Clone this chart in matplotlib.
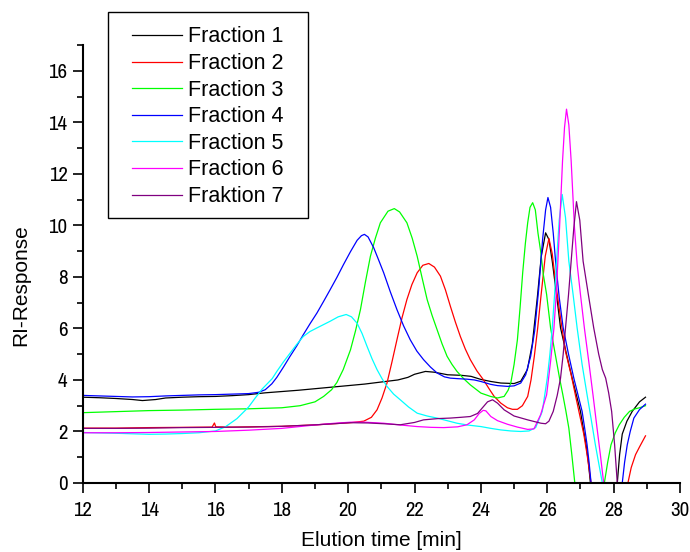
import matplotlib
matplotlib.use("Agg")
import matplotlib.pyplot as plt
from matplotlib import font_manager
from matplotlib.patches import Rectangle
from matplotlib.ticker import MultipleLocator

# Elution profiles: (time [min], RI response) pairs for each fraction
fraction_1 = [(12.0, 3.33), (12.5, 3.31), (13.0, 3.28), (13.5, 3.24), (13.8, 3.20), (14.2, 3.24),
              (14.5, 3.30), (15.0, 3.33), (15.5, 3.35), (16.0, 3.36), (16.5, 3.39), (17.0, 3.43),
              (17.5, 3.50), (18.0, 3.55), (18.5, 3.60), (19.0, 3.66), (19.5, 3.72), (20.0, 3.78),
              (20.5, 3.84), (21.0, 3.92), (21.5, 4.00), (21.8, 4.10), (22.0, 4.22), (22.33, 4.33),
              (22.6, 4.30), (23.0, 4.20), (23.4, 4.18), (23.7, 4.14), (24.0, 4.02), (24.3, 3.94),
              (24.6, 3.88), (25.0, 3.86), (25.2, 3.95), (25.4, 4.40), (25.55, 5.40), (25.7, 7.20),
              (25.82, 8.80), (25.95, 9.71), (26.05, 9.45), (26.15, 8.61), (26.28, 7.30), (26.4, 6.02),
              (26.58, 5.00), (26.75, 4.07), (26.88, 3.40), (27.0, 2.78), (27.1, 2.00), (27.17, 1.48),
              (27.24, 0.80), (27.3, 0.00), (27.4, -1.20), (27.7, -3.00), (28.0, -1.50), (28.11, 0.00),
              (28.18, 1.10), (28.26, 1.90), (28.4, 2.40), (28.56, 2.78), (28.78, 3.15), (28.96, 3.33)]

fraction_2 = [(12.0, 2.13), (13.0, 2.13), (14.0, 2.15), (15.0, 2.16), (15.9, 2.17), (15.97, 2.33),
              (16.01, 2.18), (16.5, 2.17), (17.0, 2.18), (18.0, 2.20), (19.06, 2.26), (20.07, 2.34),
              (20.47, 2.40), (20.7, 2.55), (20.87, 2.84), (21.02, 3.30), (21.17, 3.88), (21.32, 4.70),
              (21.47, 5.56), (21.62, 6.40), (21.77, 7.12), (21.92, 7.70), (22.08, 8.16), (22.25, 8.45),
              (22.43, 8.52), (22.6, 8.38), (22.78, 8.03), (22.93, 7.50), (23.08, 6.86), (23.23, 6.25),
              (23.38, 5.69), (23.53, 5.20), (23.68, 4.79), (23.88, 4.35), (24.08, 4.00), (24.25, 3.65),
              (24.4, 3.36), (24.6, 3.10), (24.8, 2.92), (24.95, 2.86), (25.1, 2.86), (25.25, 3.00),
              (25.41, 3.36), (25.51, 4.00), (25.61, 4.92), (25.71, 6.00), (25.81, 7.25), (25.94, 8.81),
              (26.05, 9.49), (26.15, 8.90), (26.25, 7.80), (26.4, 6.40), (26.55, 5.10), (26.72, 4.20),
              (26.85, 3.40), (27.0, 2.50), (27.1, 1.90), (27.2, 1.10), (27.32, 0.00), (27.45, -1.50),
              (27.8, -3.00), (28.2, -2.00), (28.43, 0.00), (28.53, 0.60), (28.66, 1.10), (28.78, 1.40),
              (28.96, 1.83)]

fraction_3 = [(12.0, 2.73), (13.0, 2.77), (14.0, 2.81), (15.0, 2.83), (16.0, 2.86), (17.0, 2.88),
              (18.0, 2.92), (18.55, 3.00), (19.0, 3.15), (19.26, 3.36), (19.5, 3.62), (19.66, 3.90),
              (19.85, 4.40), (20.07, 5.17), (20.22, 5.90), (20.37, 6.73), (20.52, 7.80), (20.67, 8.80),
              (20.82, 9.50), (20.97, 10.10), (21.2, 10.55), (21.39, 10.65), (21.55, 10.52), (21.77, 10.10),
              (21.93, 9.50), (22.08, 8.80), (22.23, 7.95), (22.38, 7.12), (22.53, 6.50), (22.68, 5.95),
              (22.83, 5.40), (22.98, 4.92), (23.13, 4.60), (23.28, 4.33), (23.48, 4.05), (23.68, 3.81),
              (24.0, 3.49), (24.29, 3.36), (24.5, 3.30), (24.7, 3.36), (24.82, 3.60), (24.9, 3.88),
              (25.0, 4.60), (25.1, 5.56), (25.18, 6.80), (25.26, 8.17), (25.34, 9.30), (25.41, 10.10),
              (25.48, 10.70), (25.56, 10.88), (25.64, 10.60), (25.72, 9.70), (25.8, 9.00), (25.88, 8.10),
              (25.98, 7.32), (26.1, 6.02), (26.24, 5.00), (26.37, 4.07), (26.47, 3.42), (26.56, 2.80),
              (26.65, 2.13), (26.74, 1.10), (26.83, 0.00), (26.95, -1.80), (27.3, -3.00), (27.6, -1.50),
              (27.72, 0.00), (27.82, 0.80), (27.92, 1.48), (28.05, 1.95), (28.17, 2.26), (28.32, 2.55),
              (28.48, 2.78), (28.65, 2.88), (28.78, 2.92), (28.96, 3.00)]

fraction_4 = [(12.0, 3.40), (12.5, 3.38), (13.0, 3.36), (13.5, 3.34), (14.0, 3.35), (14.5, 3.38),
              (15.0, 3.40), (15.5, 3.42), (16.0, 3.43), (16.5, 3.45), (17.0, 3.47), (17.3, 3.52),
              (17.5, 3.62), (17.7, 3.85), (17.85, 4.10), (18.05, 4.50), (18.25, 4.92), (18.45, 5.32),
              (18.65, 5.76), (18.85, 6.18), (19.06, 6.60), (19.26, 7.05), (19.46, 7.51), (19.66, 7.98),
              (19.86, 8.48), (20.07, 8.98), (20.27, 9.42), (20.4, 9.60), (20.49, 9.65), (20.6, 9.55),
              (20.77, 9.13), (20.92, 8.65), (21.07, 8.16), (21.27, 7.42), (21.47, 6.73), (21.67, 6.10),
              (21.87, 5.56), (22.07, 5.12), (22.27, 4.79), (22.48, 4.50), (22.68, 4.27), (22.9, 4.12),
              (23.08, 4.07), (23.3, 4.05), (23.58, 4.03), (23.8, 4.00), (24.0, 3.94), (24.29, 3.83),
              (24.5, 3.78), (24.8, 3.75), (25.0, 3.77), (25.2, 3.88), (25.35, 4.20), (25.5, 4.92),
              (25.62, 5.90), (25.74, 7.50), (25.86, 9.46), (25.95, 10.60), (26.02, 11.08), (26.1, 10.70),
              (26.18, 9.70), (26.25, 8.61), (26.36, 7.20), (26.48, 6.02), (26.64, 5.00), (26.8, 4.07),
              (26.93, 3.40), (27.05, 2.78), (27.13, 2.10), (27.2, 1.48), (27.26, 0.80), (27.32, 0.00),
              (27.45, -1.50), (27.8, -3.00), (28.1, -2.00), (28.26, 0.00), (28.33, 0.80), (28.41, 1.48),
              (28.5, 2.00), (28.61, 2.52), (28.78, 2.85), (28.96, 3.06)]

fraction_5 = [(12.0, 1.96), (13.0, 1.93), (14.0, 1.89), (14.5, 1.90), (15.0, 1.92), (15.5, 1.95),
              (16.0, 2.02), (16.3, 2.18), (16.65, 2.50), (17.0, 2.95), (17.2, 3.30), (17.41, 3.65),
              (17.71, 4.05), (17.85, 4.33), (18.05, 4.70), (18.25, 5.04), (18.45, 5.38), (18.65, 5.69),
              (18.85, 5.88), (19.06, 6.02), (19.26, 6.15), (19.46, 6.28), (19.7, 6.45), (19.94, 6.54),
              (20.1, 6.45), (20.27, 6.20), (20.42, 5.80), (20.57, 5.30), (20.72, 4.82), (20.87, 4.40),
              (21.02, 4.05), (21.17, 3.75), (21.37, 3.45), (21.57, 3.23), (21.82, 2.95), (22.08, 2.71),
              (22.38, 2.60), (22.68, 2.52), (22.98, 2.42), (23.28, 2.32), (23.6, 2.25), (24.0, 2.19),
              (24.3, 2.12), (24.6, 2.06), (24.9, 2.02), (25.2, 2.00), (25.45, 2.02), (25.65, 2.15),
              (25.85, 2.78), (26.0, 4.07), (26.08, 5.00), (26.15, 6.02), (26.22, 7.30), (26.28, 8.61),
              (26.36, 10.20), (26.45, 11.20), (26.55, 10.30), (26.65, 8.61), (26.78, 7.30), (26.9, 6.02),
              (27.05, 4.60), (27.2, 3.42), (27.32, 2.50), (27.45, 1.48), (27.56, 0.70), (27.66, 0.00),
              (27.8, -1.60), (28.2, -3.00)]

fraction_6 = [(12.0, 1.95), (13.0, 1.95), (14.0, 1.96), (15.0, 1.98), (16.0, 2.00), (17.0, 2.05),
              (18.0, 2.12), (19.06, 2.26), (19.6, 2.32), (20.07, 2.36), (20.5, 2.36), (21.07, 2.32),
              (21.5, 2.26), (22.08, 2.19), (22.5, 2.16), (22.88, 2.15), (23.3, 2.18), (23.58, 2.26),
              (23.8, 2.45), (23.95, 2.70), (24.07, 2.82), (24.15, 2.80), (24.3, 2.58), (24.5, 2.42),
              (24.8, 2.28), (25.1, 2.17), (25.41, 2.08), (25.6, 2.10), (25.8, 2.65), (25.98, 3.42),
              (26.1, 4.72), (26.2, 6.00), (26.27, 7.32), (26.37, 9.91), (26.46, 12.50), (26.52, 13.80),
              (26.58, 14.51), (26.65, 13.90), (26.72, 12.50), (26.82, 9.91), (26.9, 8.50), (27.0, 7.32),
              (27.12, 6.00), (27.25, 4.72), (27.38, 3.40), (27.5, 2.13), (27.6, 1.10), (27.7, 0.00),
              (27.85, -1.70), (28.3, -3.00)]

fraction_7 = [(12.0, 2.12), (13.0, 2.12), (14.0, 2.13), (15.0, 2.15), (16.0, 2.16), (17.0, 2.17),
              (18.0, 2.20), (19.06, 2.26), (20.07, 2.34), (20.6, 2.33), (21.07, 2.30), (21.57, 2.26),
              (22.0, 2.35), (22.27, 2.45), (22.7, 2.50), (23.08, 2.52), (23.4, 2.55), (23.68, 2.58),
              (23.9, 2.70), (24.08, 2.97), (24.2, 3.15), (24.35, 3.23), (24.5, 3.10), (24.7, 2.84),
              (25.0, 2.60), (25.41, 2.45), (25.81, 2.32), (25.95, 2.30), (26.05, 2.40), (26.18, 2.78),
              (26.3, 3.40), (26.4, 4.07), (26.48, 5.00), (26.55, 6.02), (26.64, 7.30), (26.72, 8.61),
              (26.8, 9.90), (26.88, 10.92), (26.98, 10.20), (27.08, 8.61), (27.24, 7.30), (27.4, 6.02),
              (27.55, 5.00), (27.66, 4.40), (27.76, 4.07), (27.85, 3.50), (27.94, 2.78), (28.03, 1.48),
              (28.11, 0.00), (28.2, -1.50), (28.5, -3.00)]

series = [fraction_1, fraction_2, fraction_3, fraction_4, fraction_5, fraction_6, fraction_7]
labels = ["Fraction 1", "Fraction 2", "Fraction 3", "Fraction 4",
          "Fraction 5", "Fraction 6", "Fraktion 7"]
colors = ["#000000", "#FF0000", "#00FF00", "#0000FF", "#00FFFF", "#FF00FF", "#800080"]

x_ticks = list(range(12, 31, 2))
y_ticks = list(range(0, 17, 2))

plt.rcParams["font.family"] = ["Liberation Sans", "DejaVu Sans"]

# narrow face for the tick numbers, taken from whatever is installed
installed = {f.name for f in font_manager.fontManager.ttflist}
narrow_choices = ["Liberation Sans Narrow", "Arial Narrow", "Archivo Narrow",
                  "Roboto Condensed", "Asap Condensed", "Barlow Semi Condensed"]
narrow = [n for n in narrow_choices if n in installed][:1] + ["Liberation Sans", "DejaVu Sans"]

fig = plt.figure(figsize=(6.9, 5.52), dpi=100)
W, H = 690.0, 552.0
ax = fig.add_axes([82.7 / W, 1 - 483 / H, (680 - 82.7) / W, (483 - 45) / H])

handles = []
for data, lab, col in zip(series, labels, colors):
    t = [p[0] for p in data]
    v = [p[1] for p in data]
    h, = ax.plot(t, v, color=col, lw=0.9, label=lab)
    handles.append(h)

ax.set_xlim(12, 30)
ax.set_ylim(0, 17)
ax.set_xticks(x_ticks)
ax.set_yticks(y_ticks)
ax.xaxis.set_minor_locator(MultipleLocator(1))
ax.yaxis.set_minor_locator(MultipleLocator(1))

for side in ("top", "right"):
    ax.spines[side].set_visible(False)
for side in ("left", "bottom"):
    ax.spines[side].set_linewidth(1.5)

ax.tick_params(which="major", direction="out", length=7, width=1.2, labelsize=15, pad=4)
ax.tick_params(which="minor", direction="out", length=4, width=1.2)
ax.tick_params(axis="x", which="major", pad=6)
for lab in ax.get_xticklabels() + ax.get_yticklabels():
    lab.set_fontfamily(narrow)

ax.set_xlabel("Elution time [min]", fontsize=15, labelpad=8)
ax.set_ylabel("RI-Response", fontsize=15)
ax.yaxis.set_label_coords(-0.087, 0.452)

# legend box drawn as its own rectangle, entries placed inside it
frame = Rectangle((108 / W, 1 - 218 / H), 200 / W, 206 / H, transform=fig.transFigure,
                  facecolor="white", edgecolor="black", linewidth=1.0, zorder=4)
fig.add_artist(frame)
leg = fig.legend(handles=handles, loc="upper left",
                 bbox_to_anchor=(132 / W, 1 - 26.5 / H), bbox_transform=fig.transFigure,
                 borderaxespad=0, borderpad=0, frameon=False, fontsize=15.5,
                 handlelength=2.3, handletextpad=0.3, labelspacing=0.26)
leg.set_zorder(5)

fig.savefig("out.png", dpi=100)
